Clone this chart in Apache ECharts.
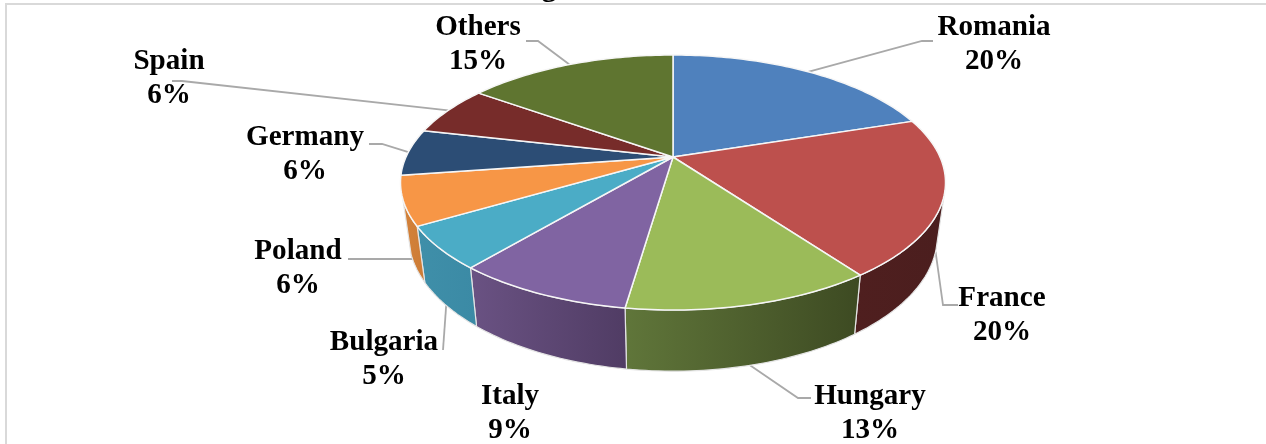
<!DOCTYPE html>
<html><head><meta charset="utf-8">
<style>html,body{margin:0;padding:0;background:#fff}#c{width:1266px;height:444px}</style>
<script src="https://cdn.jsdelivr.net/npm/echarts@6/dist/echarts.min.js"></script>
</head><body><div id="c"></div>
<script>
// ---- data ----
const categories = ['Romania','France','Hungary','Italy','Bulgaria','Poland','Germany','Spain','Others'];
const values     = [20, 20, 12.3, 8.8, 5.4, 6.2, 5.9, 6.3, 15.1];
const percentLabels = ['20%','20%','13%','9%','5%','6%','6%','6%','15%'];

// ---- style ----
const topColors = ['#4F81BD','#BD504D','#9BBB59','#8064A2','#4BACC6','#F79646','#2C4D75','#772C2A','#5F7530'];
const wallColors = [
  ['#2f4d71','#2f4d71'],['#4f1f1f','#4b1e1e'],['#60763a','#3d4a22'],['#6a5283','#503c64'],
  ['#3f8fa9','#3b8aa5'],['#d4823a','#cc7c36'],['#1a2e46','#1a2e46'],['#471a19','#471a19'],['#39461d','#39461d']];

// ---- layout of the perspective disc ----
const disc = {cx:673, cy:157, kx:267, ky:122.4, p:-0.2, bx:0.97, by:1.06, by0:209};
const FONT = '"Liberation Serif","Times New Roman",serif';
// label centre, and the leader elbow points (label side), per category
const labelPos = [[994,44],[1002,315],[870,413],[510,413],[384,359],[298,268],[305,154],[169,78],[478,44]];
const leaderPts = [[[922,41],[933,41]],[[943,305],[958,305]],[[798,398],[811,398]],null,[[443,350]],[[414,259],[348,259]],[[382,144],[369,144]],[[182,81],[172,81]],[[538,41],[526,41]]];
const leaderFromBottom = [false,true,true,false,true,true,false,false,false];

const total = values.reduce((a,b)=>a+b,0);
const cum = []; values.reduce((a,b,i)=>{cum[i]=a;return a+b;},0);
const startA = i => cum[i]/total*2*Math.PI;
const endA = i => (cum[i]+values[i])/total*2*Math.PI;
function topRim(a){
  const x=Math.sin(a), y=-Math.cos(a), d=1+disc.p*y;
  return [disc.cx+disc.kx*x/d, disc.cy+disc.ky*y/d];
}
function bottomRim(a){
  const t=topRim(a);
  return [disc.cx+disc.bx*(t[0]-disc.cx), disc.by0+disc.by*(t[1]-disc.cy)];
}
function arc(fn,a0,a1){
  const n=Math.max(2,Math.ceil(Math.abs(a1-a0)/0.02)), out=[];
  for(let k=0;k<=n;k++) out.push(fn(a0+(a1-a0)*k/n));
  return out;
}
const WALL0=107*Math.PI/180, WALL1=251*Math.PI/180;
const seriesData = values.map((v,i)=>[i,v]);

function renderWall(params,api){
  const i=api.value(0);
  const a0=Math.max(startA(i),WALL0), a1=Math.min(endA(i),WALL1);
  if(a1<=a0) return {type:'group',children:[]};
  const pts=arc(topRim,a0,a1).concat(arc(bottomRim,a1,a0));
  const c=wallColors[i];
  return {type:'polygon',shape:{points:pts},style:{
    fill:new echarts.graphic.LinearGradient(0,0,1,0,[{offset:0,color:c[0]},{offset:1,color:c[1]}]),
    stroke:'#e4e4e4',lineWidth:1.2,lineJoin:'round'}};
}
function renderTop(params,api){
  const i=api.value(0);
  const pts=[[disc.cx,disc.cy]].concat(arc(topRim,startA(i),endA(i)));
  return {type:'polygon',shape:{points:pts},style:{fill:topColors[i],stroke:'#f6f6f6',lineWidth:1.5,lineJoin:'round'}};
}
function renderLeader(params,api){
  const i=api.value(0);
  if(!leaderPts[i]) return {type:'group',children:[]};
  const mid=(startA(i)+endA(i))/2;
  const s=(leaderFromBottom[i]?bottomRim:topRim)(mid);
  return {type:'polyline',shape:{points:[s].concat(leaderPts[i])},style:{fill:'none',stroke:'#a9a9a9',lineWidth:1.8}};
}
function renderLabel(params,api){
  const i=api.value(0);
  return {type:'text',x:labelPos[i][0],y:labelPos[i][1],scaleX:0.97,style:{text:categories[i]+'\n'+percentLabels[i],x:0,y:0,
    align:'center',verticalAlign:'middle',font:'bold 30px '+FONT,lineHeight:34,fill:'#000'}};
}
const chart=echarts.init(document.getElementById('c'),null,{renderer:'canvas'});
chart.setOption({
  animation:false,
  backgroundColor:'#fff',
  graphic:[
    {type:'rect',shape:{x:6,y:4,width:1270,height:460},style:{fill:'none',stroke:'#d9d9d9',lineWidth:2},z:0},
    {type:'text',style:{text:'g',x:549,y:3,align:'center',verticalAlign:'bottom',font:'bold 30px '+FONT,fill:'#000'},z:0}
  ],
  series:[
    {type:'custom',name:'leaders',coordinateSystem:'none',data:seriesData,renderItem:renderLeader,z:1,silent:true},
    {type:'custom',name:'walls',coordinateSystem:'none',data:seriesData,renderItem:renderWall,z:2,silent:true},
    {type:'custom',name:'slices',coordinateSystem:'none',data:seriesData,renderItem:renderTop,z:3,silent:true},
    {type:'custom',name:'labels',coordinateSystem:'none',data:seriesData,renderItem:renderLabel,z:4,silent:true}
  ]
});
</script></body></html>
